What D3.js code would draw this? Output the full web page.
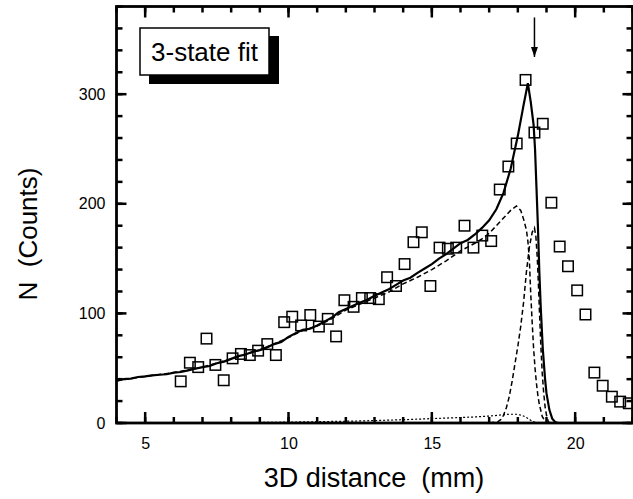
<!DOCTYPE html>
<html>
<head>
<meta charset="utf-8">
<script src="https://cdn.jsdelivr.net/npm/d3@7.9.0/dist/d3.min.js"></script>
<style>
  body { margin: 0; background: #fff; }
  svg { display: block; font-family: "Liberation Sans", Arial, Helvetica, sans-serif; }
  text { white-space: pre; }
</style>
</head>
<body>
<svg id="chart" width="633" height="499"></svg>
<script>
// measured points: [distance mm, counts]
const points = [
  [6.24, 38], [6.56, 55], [6.85, 51], [7.14, 77], [7.45, 53], [7.74, 39], [8.05, 59],
  [8.34, 63], [8.65, 62], [8.94, 66], [9.26, 72], [9.56, 62], [9.85, 92], [10.13, 97],
  [10.44, 89], [10.76, 98.5], [11.06, 88], [11.37, 95], [11.66, 79], [11.95, 112],
  [12.27, 106], [12.56, 114], [12.85, 114], [13.15, 113], [13.44, 133], [13.75, 125],
  [14.05, 145], [14.36, 165], [14.65, 174], [14.95, 125], [15.27, 160], [15.56, 159],
  [15.85, 160], [16.14, 180], [16.45, 160], [16.76, 171], [17.07, 166], [17.37, 213],
  [17.67, 234], [17.96, 255], [18.27, 313], [18.58, 265], [18.87, 273], [19.17, 201],
  [19.46, 161], [19.75, 143], [20.07, 121], [20.36, 99], [20.67, 46], [20.96, 34],
  [21.28, 24], [21.57, 19.5], [21.87, 18]
];

// total 3-state fit (solid)
const totalFit = [
  [4.0, 38.5], [4.25, 40], [4.5, 40.5], [4.75, 42], [5.0, 42.5], [5.25, 43.5], [5.5, 44],
  [5.75, 44.5], [6.0, 46], [6.25, 46.5], [6.5, 48], [6.75, 49.5], [7.0, 51], [7.25, 52],
  [7.5, 54.5], [7.75, 56], [8.0, 58.5], [8.25, 61], [8.5, 62.5], [8.75, 65], [9.0, 66.5],
  [9.25, 69], [9.5, 72], [9.75, 74], [10.0, 78.5], [10.25, 82], [10.5, 85], [10.75, 86],
  [11.0, 89], [11.25, 92.5], [11.5, 96], [11.75, 101], [12.0, 104], [12.25, 107],
  [12.5, 110], [12.75, 112.5], [13.0, 116], [13.25, 119], [13.5, 122], [13.75, 126],
  [14.0, 130], [14.25, 132.5], [14.5, 137], [14.75, 141], [15.0, 145], [15.25, 150],
  [15.5, 154], [15.75, 159], [16.0, 164], [16.25, 167], [16.5, 172], [16.75, 178],
  [17.0, 185], [17.25, 195], [17.5, 210], [17.75, 232], [18.0, 262], [18.2, 290],
  [18.35, 310], [18.45, 293], [18.55, 272], [18.6, 250], [18.65, 215], [18.7, 180],
  [18.75, 138], [18.8, 105], [18.87, 68], [18.95, 40], [19.0, 27], [19.1, 12],
  [19.2, 4], [19.3, 1], [19.4, 0]
];

// broad component (dashed)
const broadFit = [
  [4.0, 38.5], [5.0, 42.5], [6.0, 46], [7.0, 51], [8.0, 58.5], [9.0, 66.5], [10.0, 78],
  [10.5, 84.5], [11.0, 88.5], [11.5, 95], [12.0, 103], [12.5, 108.5], [13.0, 114],
  [13.5, 119.5], [14.0, 127], [14.5, 133], [15.0, 140], [15.5, 148], [16.0, 157],
  [16.5, 164], [16.75, 168], [17.0, 173], [17.25, 180], [17.5, 187], [17.75, 194],
  [17.95, 198], [18.1, 194], [18.2, 186], [18.3, 176], [18.35, 166], [18.4, 150],
  [18.45, 118], [18.5, 92], [18.55, 68], [18.6, 50], [18.65, 36], [18.7, 25],
  [18.75, 17], [18.85, 6], [18.95, 1.5], [19.05, 0]
];

// narrow component (dashed)
const narrowFit = [
  [17.0, 0], [17.3, 1], [17.4, 3], [17.5, 7], [17.6, 14], [17.7, 24], [17.8, 38],
  [17.9, 54], [18.0, 70], [18.1, 88], [18.2, 110], [18.3, 138], [18.4, 160], [18.5, 174],
  [18.58, 178], [18.63, 170], [18.68, 150], [18.72, 125], [18.76, 98], [18.8, 72],
  [18.85, 46], [18.9, 28], [18.95, 15], [19.0, 7], [19.05, 2.5], [19.1, 0]
];

// small component (dotted)
const smallFit = [
  [8.0, 0.3], [9.0, 0.5], [10.0, 0.8], [11.0, 1.2], [12.0, 1.6], [13.0, 2.2], [14.0, 3],
  [15.0, 4], [16.0, 5], [16.5, 5.5], [17.0, 6.3], [17.4, 7.3], [17.7, 8], [17.95, 8],
  [18.15, 7], [18.3, 5], [18.45, 2.5], [18.6, 0.7], [18.75, 0]
];

const xMajor = [5, 10, 15, 20];
const yMajor = [0, 100, 200, 300];
const xMinor = d3.range(4, 23, 1);
const yMinor = d3.range(0, 381, 20);
const legendText = '3-state fit';
const arrowAt = 18.58, arrowFrom = 370, arrowTo = 334;

const svg = d3.select('#chart');
const pL = 116.5, pR = 632.5, pT = 6.5, pB = 423;

const x = d3.scaleLinear().domain([4, 22]).range([pL, pR]);
const y = d3.scaleLinear().domain([0, 380]).range([pB, pT]);

const defs = svg.append('defs');
defs.append('clipPath').attr('id', 'plot')
  .append('rect').attr('x', pL).attr('y', pT)
  .attr('width', pR - pL).attr('height', pB - pT);

defs.append('marker')
  .attr('id', 'head').attr('viewBox', '0 0 10 10')
  .attr('refX', 10).attr('refY', 5)
  .attr('markerWidth', 10).attr('markerHeight', 10)
  .attr('markerUnits', 'userSpaceOnUse').attr('orient', 'auto')
  .append('path').attr('d', 'M0,1.5 L10,5 L0,8.5 Z').attr('fill', '#000');

// tick labels via d3 axes
svg.append('g').attr('transform', `translate(0,${pB})`)
  .call(d3.axisBottom(x).tickValues(xMajor).tickSize(0).tickPadding(15));
svg.append('g').attr('transform', `translate(${pL},0)`)
  .call(d3.axisLeft(y).tickValues(yMajor).tickSize(0).tickPadding(11));
svg.selectAll('.domain').remove();
svg.selectAll('.tick text')
  .attr('font-family', '"Liberation Sans", Arial, sans-serif')
  .attr('font-size', 16).attr('fill', '#000');

// inward ticks on all four sides
const ticks = svg.append('g').attr('stroke', '#000').attr('stroke-width', 2.5);
function xTicks(vals, len) {
  ticks.selectAll(null).data(vals).join('line')
    .attr('x1', d => x(d)).attr('x2', d => x(d))
    .attr('y1', pB).attr('y2', pB - len);
  ticks.selectAll(null).data(vals).join('line')
    .attr('x1', d => x(d)).attr('x2', d => x(d))
    .attr('y1', pT).attr('y2', pT + len);
}
function yTicks(vals, len) {
  ticks.selectAll(null).data(vals).join('line')
    .attr('y1', d => y(d)).attr('y2', d => y(d))
    .attr('x1', pL).attr('x2', pL + len);
  ticks.selectAll(null).data(vals).join('line')
    .attr('y1', d => y(d)).attr('y2', d => y(d))
    .attr('x1', pR).attr('x2', pR - len);
}
xTicks(xMinor, 6);
xTicks(xMajor, 11);
yTicks(yMinor, 6);
yTicks(yMajor, 10);

// frame
svg.append('rect')
  .attr('x', pL).attr('y', pT)
  .attr('width', pR - pL).attr('height', pB - pT)
  .attr('fill', 'none').attr('stroke', '#000').attr('stroke-width', 2.8);

const line = d3.line().x(d => x(d[0])).y(d => y(d[1]));
const plot = svg.append('g').attr('clip-path', 'url(#plot)');

plot.append('path').datum(smallFit).attr('d', line)
  .attr('fill', 'none').attr('stroke', '#000').attr('stroke-width', 1.2)
  .attr('stroke-dasharray', '2,2');
plot.append('path').datum(totalFit).attr('d', line)
  .attr('fill', 'none').attr('stroke', '#000').attr('stroke-width', 2.2);
plot.append('path').datum(broadFit).attr('d', line)
  .attr('fill', 'none').attr('stroke', '#000').attr('stroke-width', 1.5)
  .attr('stroke-dasharray', '5,3');
plot.append('path').datum(narrowFit).attr('d', line)
  .attr('fill', 'none').attr('stroke', '#000').attr('stroke-width', 1.5)
  .attr('stroke-dasharray', '5,3');

// squares
const sq = 10.5;
plot.selectAll('rect.pt').data(points).join('rect')
  .attr('class', 'pt')
  .attr('x', d => x(d[0]) - sq / 2).attr('y', d => y(d[1]) - sq / 2)
  .attr('width', sq).attr('height', sq)
  .attr('fill', 'none').attr('stroke', '#000').attr('stroke-width', 1.5);

// arrow
svg.append('line')
  .attr('x1', x(arrowAt)).attr('x2', x(arrowAt))
  .attr('y1', y(arrowFrom)).attr('y2', y(arrowTo))
  .attr('stroke', '#000').attr('stroke-width', 1.5)
  .attr('marker-end', 'url(#head)');

// legend box with shadow
const lg = svg.append('g');
lg.append('rect').attr('x', 149).attr('y', 36).attr('width', 130).attr('height', 48).attr('fill', '#000');
lg.append('rect').attr('x', 140).attr('y', 28).attr('width', 129).attr('height', 47)
  .attr('fill', '#fff').attr('stroke', '#000').attr('stroke-width', 1.5);
lg.append('text').attr('x', 204.5).attr('y', 60.5).attr('text-anchor', 'middle')
  .attr('font-size', 26).text(legendText);

// axis titles
svg.append('text').attr('x', 374).attr('y', 487).attr('text-anchor', 'middle')
  .attr('font-size', 27).text('3D distance  (mm)');
svg.append('text').attr('transform', 'translate(37,234) rotate(-90)')
  .attr('text-anchor', 'middle').attr('font-size', 26).text('N  (Counts)');
</script>
</body>
</html>
